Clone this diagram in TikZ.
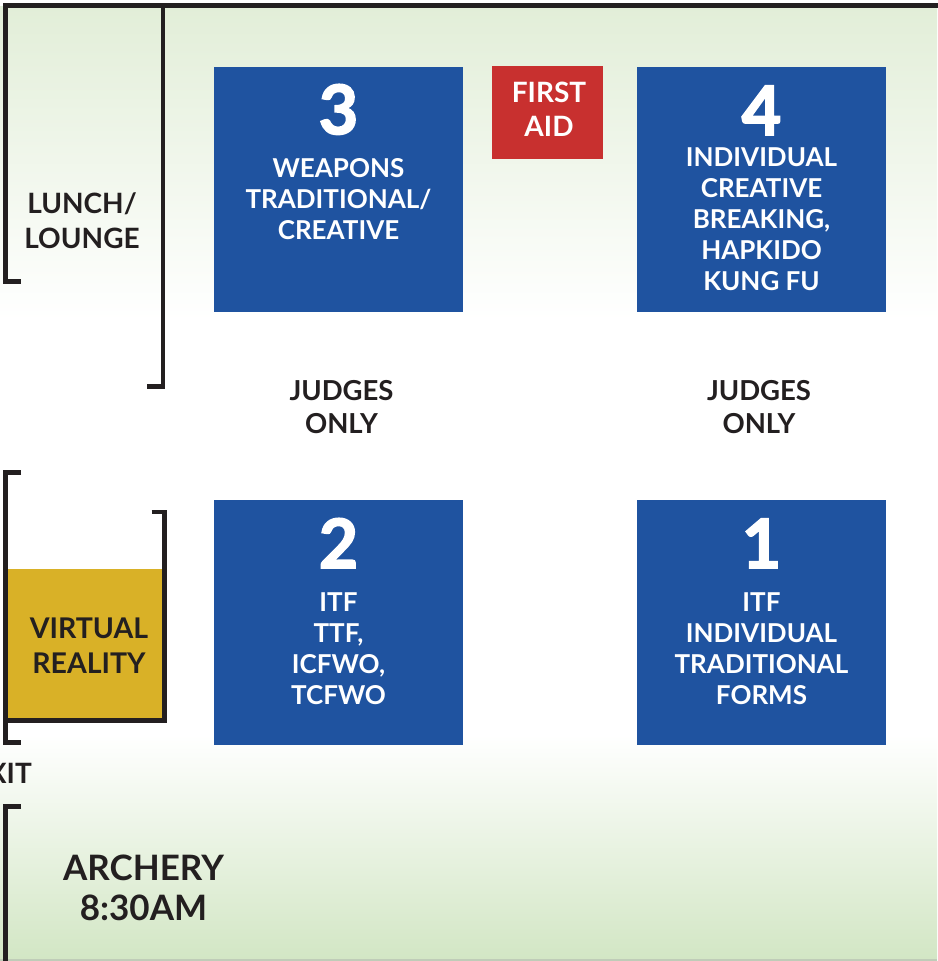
\documentclass[tikz,border=0pt]{standalone}
\usepackage{fontspec}
\setmainfont{Lato}
\newfontfamily\numfont{Lato}[FakeBold=2.5]
\definecolor{zblue}{HTML}{1F53A0}
\definecolor{zred}{HTML}{C8302F}
\definecolor{zyellow}{HTML}{D9B127}
\definecolor{zink}{HTML}{231F20}
\definecolor{gtop}{HTML}{E2EED8}
\definecolor{gbot}{HTML}{D2E6C4}
\definecolor{gline}{HTML}{BFCCB8}
\newcommand\stk[1]{\begin{tabular}[t]{@{}c@{}}#1\end{tabular}}
\tikzset{
  wall/.style={draw=zink, line width=4.5pt, line join=miter, line cap=butt},
  bluebox/.style={fill=zblue, draw=none, minimum width=249pt, minimum height=245pt, inner sep=0pt},
  num/.style={inner sep=0pt, anchor=base, text=white, font=\fontsize{68}{68}\selectfont\numfont\bfseries},
  wtext/.style={inner sep=0pt, anchor=base, text=white, font=\fontsize{26}{31}\selectfont\bfseries},
  dtext/.style={inner sep=0pt, anchor=base, text=zink, font=\bfseries},
}
\begin{document}
\begin{tikzpicture}[x=1pt,y=-1pt]
\useasboundingbox (0,0) rectangle (937,961);
% background
\fill[white] (0,0) rectangle (937,961);
\fill[top color=gtop, bottom color=white] (0,6) rectangle (937,320);
\fill[top color=white, bottom color=gbot] (0,735) rectangle (937,961);
\draw[gline, line width=1.5pt] (0,960.2) -- (937,960.2);
% yellow area
\fill[zyellow] (5.3,569) rectangle (164.5,720.5);
% walls
\draw[wall] (20.7,281.5) -- (5.3,281.5) -- (5.3,5.7) -- (940,5.7);
\draw[wall] (163,5.7) -- (163,386.5) -- (146.7,386.5);
\draw[wall] (21,472.5) -- (5.3,472.5) -- (5.3,742.5) -- (21,742.5);
\draw[wall] (151.7,512) -- (164.5,512) -- (164.5,720.5) -- (5.3,720.5);
\draw[wall] (21,806.5) -- (5.3,806.5) -- (5.3,966);
% rings
\node[bluebox] (z3) at (338.5,189.5) {};
\node[bluebox] (z4) at (761.5,189.5) {};
\node[bluebox] (z2) at (338.5,622.5) {};
\node[bluebox] (z1) at (761.5,622.5) {};
\node[num] (n3) at (338.5,134) {3};
\node[num] (n4) at (761.5,135) {4};
\node[num] (n2) at (338.5,568) {2};
\node[num] (n1) at (761.5,568) {1};
\node[wtext] (t3) at (338.5,177) {\stk{WEAPONS\\TRADITIONAL/\\CREATIVE}};
\node[wtext] (t4) at (761.5,166) {\stk{INDIVIDUAL\\CREATIVE\\BREAKING,\\HAPKIDO\\KUNG FU}};
\node[wtext] (t2) at (338.5,611) {\stk{ITF\\TTF,\\ICFWO,\\TCFWO}};
\node[wtext] (t1) at (761.5,611) {\stk{ITF\\INDIVIDUAL\\TRADITIONAL\\FORMS}};
% first aid
\node[fill=zred, minimum width=111pt, minimum height=93pt, inner sep=0pt] (fa) at (547.5,112) {};
\node[inner sep=0pt, anchor=base, text=white, font=\fontsize{28}{34}\selectfont\bfseries] (fat) at (549,102) {\stk{FIRST\\AID}};
% judges
\node[dtext, font=\fontsize{27.5}{32.5}\selectfont\bfseries] (j1) at (341.5,400.7) {\stk{JUDGES\\ONLY}};
\node[dtext, font=\fontsize{27.5}{32.5}\selectfont\bfseries] (j2) at (759,400.7) {\stk{JUDGES\\ONLY}};
% side labels
\node[dtext, font=\fontsize{28}{35}\selectfont\bfseries] (lunch) at (82,213) {\stk{LUNCH/\\LOUNGE}};
\node[dtext, font=\fontsize{28.5}{35}\selectfont\bfseries] (vr) at (89,638) {\stk{VIRTUAL\\REALITY}};
\node[dtext, font=\fontsize{28}{35}\selectfont\bfseries, anchor=base east] (exit) at (32,783) {XIT};
\node[dtext, font=\fontsize{35}{40}\selectfont\bfseries] (arch) at (143.5,880) {\stk{ARCHERY\\8:30AM}};
\end{tikzpicture}
\end{document}
